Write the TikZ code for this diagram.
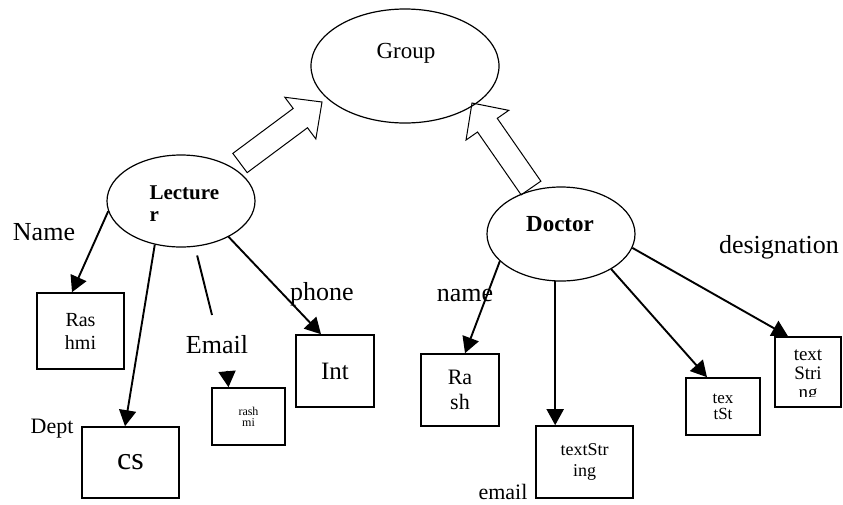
\documentclass[tikz,border=0pt]{standalone}
\usepackage{fontspec}
\setmainfont{Liberation Serif}
\usetikzlibrary{shapes.geometric,arrows.meta,calc}

% font size shorthand: size and baseline skip in pt
\newcommand\fsz[2]{\fontsize{#1}{#2}\selectfont}

% wide outlined block arrow from #1 (tail centre) to #2 (tip)
\newcommand\hollowarrow[2]{%
  \coordinate (ha-base) at ($(#2)!27pt!(#1)$);
  \draw[fatarrow] ($(#1)!12pt!90:(#2)$) -- ($(ha-base)!12pt!90:(#2)$)
    -- ($(ha-base)!26pt!90:(#2)$) -- (#2) -- ($(ha-base)!26pt!-90:(#2)$)
    -- ($(ha-base)!12pt!-90:(#2)$) -- ($(#1)!12pt!-90:(#2)$) -- cycle;}

\begin{document}
\begin{tikzpicture}[x=1pt,y=-1pt,
  oval/.style={ellipse, draw, line width=1.2pt, inner sep=0pt},
  valbox/.style={draw, line width=1.6pt, inner sep=0pt, align=center},
  link/.style={line width=1.9pt, -{Triangle[width=17pt,length=16pt]}},
  fatarrow/.style={draw, line width=1pt, fill=white, line join=miter},
  lbl/.style={inner sep=0pt, font=\fsz{26}{28}},
]
\useasboundingbox (0,0) rectangle (843,504);

% inheritance arrows towards Group
\coordinate (la-tail) at (240,163);
\coordinate (la-tip) at (322,102);
\hollowarrow{la-tail}{la-tip}
\coordinate (ra-tail) at (531,188);
\coordinate (ra-tip) at (472,103);
\hollowarrow{ra-tail}{ra-tip}

% classes
\node[oval, minimum width=188pt, minimum height=114pt] (grp) at (405,66) {};
\node[font=\fsz{23}{26}] (grpt) at (406,53) {Group};
\node[oval, minimum width=148pt, minimum height=92pt] (lect) at (181,201) {};
\node[font=\bfseries\fsz{21}{22}, align=left, anchor=west] (lectt) at (146,204) {Lecture\\r};
\node[oval, minimum width=148pt, minimum height=94pt] (doc) at (561,234) {};
\node[font=\bfseries\fsz{23}{26}] (doct) at (560,224) {Doctor};

% attribute values
\node[valbox, minimum width=87pt, minimum height=76pt, font=\fsz{20}{23}] (rashmi) at (80.5,331) {Ras\\hmi};
\node[valbox, minimum width=97pt, minimum height=71pt, font=\fsz{32}{32}] (cs) at (130.5,462.5) {cs};
\node[valbox, minimum width=73pt, minimum height=57pt, font=\fsz{12}{11}] (mi) at (248.5,416.5) {rash\\mi};
\node[valbox, minimum width=78pt, minimum height=72pt, font=\fsz{25}{25}] (int) at (335,371) {Int};
\node[valbox, minimum width=78pt, minimum height=72pt, font=\fsz{22}{25}] (rash) at (460,390) {Ra\\sh};
\node[valbox, minimum width=97pt, minimum height=72pt, font=\fsz{18}{21}] (tstr) at (584.5,462) {textStr\\ing};
\node[valbox, minimum width=74pt, minimum height=57pt] (tst) at (723,406.5) {};
\node[valbox, minimum width=66pt, minimum height=70pt] (tstri) at (808,372) {};
\begin{scope}
  \clip (tst.north west) rectangle ([yshift=15pt]tst.south east);
  \node[font=\fsz{17}{16}, align=center] (tstt) at (723,407) {tex\\tSt};
\end{scope}
\begin{scope}
  \clip (tstri.north west) rectangle ([yshift=11pt]tstri.south east);
  \node[font=\fsz{19}{19}, align=center] (tstrit) at (808,376) {text\\Stri\\ng};
\end{scope}

% Lecturer attributes
\draw[link] (lect.188) -- ([xshift=-8.5pt]rashmi.north);
\draw[link] (lect.239) -- ([xshift=-5.5pt]cs.north);
\coordinate (emailend) at (212,315);
\draw[line width=1.9pt, shorten <=9pt] (lect.287) -- (emailend);
\coordinate (emailhead) at (227,371);
\draw[link] (emailhead) -- ([xshift=-20pt]mi.north);
\draw[link] (lect.323) -- ([xshift=-14pt]int.north);

% Doctor attributes
\draw[link] (doc.204) -- ([xshift=5pt]rash.north);
\draw[link] (doc.263) -- (doc.263 |- tstr.north);
\draw[link] (doc.325) -- ([xshift=-16pt]tst.north);
\draw[link] (doc.349) -- ([xshift=-20pt]tstri.north);

% attribute names
\node[lbl] (nameL) at (44,232) {Name};
\node[lbl] (emailL) at (217,345) {Email};
\node[lbl] (phoneL) at (322,294) {phone};
\node[lbl, font=\fsz{22}{24}] (deptL) at (52,429) {Dept};
\node[lbl] (nameD) at (465,295) {name};
\node[lbl, font=\fsz{22}{24}] (emailD) at (503,492) {email};
\node[lbl] (desigL) at (779,247) {designation};
\end{tikzpicture}
\end{document}
